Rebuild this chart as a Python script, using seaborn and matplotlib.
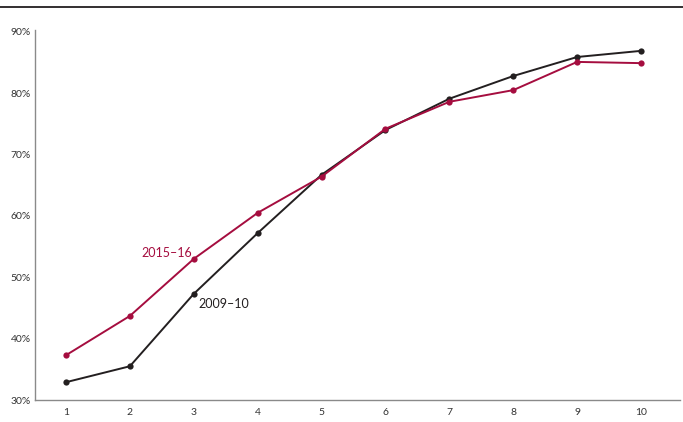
import matplotlib
matplotlib.use("Agg")
import matplotlib.pyplot as plt
import seaborn as sns
import pandas as pd

deciles = [1, 2, 3, 4, 5, 6, 7, 8, 9, 10]
s2009 = [32.9, 35.5, 47.3, 57.2, 66.7, 74.0, 79.1, 82.8, 85.9, 86.9]
s2015 = [37.3, 43.7, 53.0, 60.5, 66.4, 74.2, 78.6, 80.5, 85.1, 84.9]
yticks = [30, 40, 50, 60, 70, 80, 90]
ytick_labels = ["30%", "40%", "50%", "60%", "70%", "80%", "90%"]

RED = "#A50D3F"
BLACK = "#231F20"

sns.set_theme(style="white")
plt.rcParams["font.family"] = ["Lato", "DejaVu Sans"]

df = pd.DataFrame({
    "decile": deciles * 2,
    "value": s2009 + s2015,
    "series": ["2009–10"] * len(deciles) + ["2015–16"] * len(deciles),
})

fig = plt.figure(figsize=(6.83, 4.22), dpi=100)
ax = fig.add_axes([35 / 683, 1 - 400 / 422, 645 / 683, 370 / 422])

sns.lineplot(data=df, x="decile", y="value", hue="series",
             palette={"2009–10": BLACK, "2015–16": RED},
             marker="o", markersize=4.5, markeredgewidth=0, linewidth=1.4,
             legend=False, ax=ax)

ax.set_xlim(0.515, 10.61)
ax.set_ylim(30, 90.3)
ax.set_xticks(deciles)
ax.set_xticklabels([str(d) for d in deciles], fontsize=7.5, color="#333333")
ax.set_yticks(yticks)
ax.set_yticklabels(ytick_labels, fontsize=7.5, color="#333333")
ax.tick_params(axis="both", length=0, pad=6)
ax.tick_params(axis="y", pad=3)
ax.set_xlabel("")
ax.set_ylabel("")
for s in ["top", "right"]:
    ax.spines[s].set_visible(False)
for s in ["left", "bottom"]:
    ax.spines[s].set_color("#8a8a8a")
    ax.spines[s].set_linewidth(1.0)

ax.text(2.97, 53.9, "2015–16", color=RED, fontsize=9, ha="right", va="center")
ax.text(3.07, 45.6, "2009–10", color=BLACK, fontsize=9, ha="left", va="center")

fig.add_artist(plt.Line2D([0, 1], [1 - 7 / 422, 1 - 7 / 422], color=BLACK,
                          linewidth=1.3, transform=fig.transFigure))

fig.savefig("out.png", dpi=100)
